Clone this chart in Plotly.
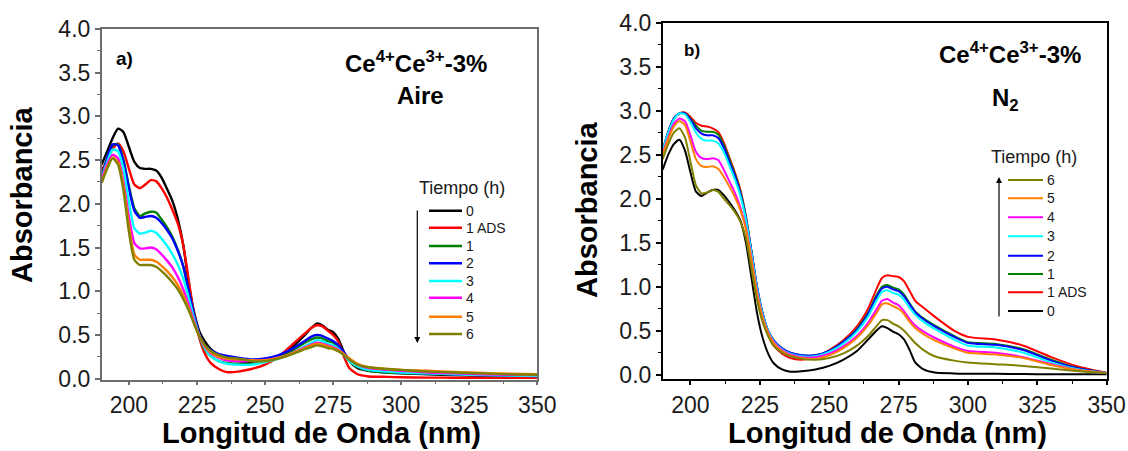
import plotly.graph_objects as go

W, H = 1128, 451

# ---------------- data ----------------
wavelength = [190, 192, 194, 196, 198, 200, 202, 204, 206, 208, 210, 212, 214, 216, 218, 220,
              222, 224, 226, 228, 230, 233, 236, 240, 245, 250, 255, 260, 264, 267, 269, 271,
              273, 275, 277, 279, 281, 284, 288, 295, 300, 310, 320, 330, 340, 350]

series_names = ["0", "1 ADS", "1", "2", "3", "4", "5", "6"]
series_colors = ["#000000", "#ff0000", "#008000", "#0000ff", "#00ffff", "#ff00ff", "#ff8000", "#808000"]

# Panel a) Aire
aire_0 = [2.45, 2.60, 2.75, 2.86, 2.82, 2.65, 2.48, 2.41, 2.40, 2.40, 2.38, 2.30, 2.17, 2.03, 1.82, 1.52,
          1.08, 0.75, 0.53, 0.42, 0.34, 0.27, 0.23, 0.20, 0.19, 0.21, 0.26, 0.36, 0.48, 0.58, 0.63, 0.61,
          0.56, 0.53, 0.45, 0.30, 0.20, 0.12, 0.09, 0.07, 0.06, 0.05, 0.04, 0.03, 0.025, 0.02]
aire_1ads = [2.38, 2.50, 2.63, 2.69, 2.60, 2.40, 2.22, 2.18, 2.22, 2.27, 2.26, 2.18, 2.07, 1.93, 1.77, 1.52,
             1.12, 0.72, 0.45, 0.28, 0.18, 0.11, 0.075, 0.08, 0.11, 0.16, 0.25, 0.39, 0.50, 0.58, 0.61, 0.60,
             0.55, 0.50, 0.42, 0.25, 0.12, 0.05, 0.025, 0.02, 0.015, 0.012, 0.01, 0.01, 0.01, 0.01]
aire_1 = [2.32, 2.52, 2.67, 2.68, 2.50, 2.20, 1.95, 1.86, 1.89, 1.91, 1.90, 1.82, 1.73, 1.62, 1.47, 1.28,
          1.00, 0.70, 0.47, 0.33, 0.26, 0.20, 0.18, 0.17, 0.17, 0.20, 0.25, 0.32, 0.40, 0.45, 0.47, 0.46,
          0.43, 0.41, 0.36, 0.28, 0.20, 0.13, 0.09, 0.07, 0.065, 0.055, 0.05, 0.045, 0.04, 0.04]
aire_2 = [2.30, 2.52, 2.68, 2.67, 2.48, 2.18, 1.92, 1.84, 1.85, 1.86, 1.84, 1.78, 1.70, 1.60, 1.46, 1.28,
          1.00, 0.72, 0.50, 0.38, 0.33, 0.28, 0.26, 0.24, 0.22, 0.23, 0.27, 0.34, 0.42, 0.48, 0.50, 0.49,
          0.46, 0.43, 0.38, 0.30, 0.21, 0.14, 0.10, 0.08, 0.07, 0.06, 0.05, 0.04, 0.035, 0.03]
aire_3 = [2.30, 2.48, 2.62, 2.60, 2.40, 2.02, 1.72, 1.66, 1.67, 1.69, 1.67, 1.60, 1.52, 1.42, 1.30, 1.14,
          0.92, 0.68, 0.48, 0.34, 0.26, 0.20, 0.17, 0.16, 0.16, 0.19, 0.23, 0.29, 0.36, 0.41, 0.44, 0.43,
          0.40, 0.38, 0.34, 0.27, 0.20, 0.14, 0.10, 0.08, 0.07, 0.06, 0.05, 0.04, 0.035, 0.03]
aire_4 = [2.28, 2.45, 2.56, 2.52, 2.25, 1.85, 1.55, 1.49, 1.49, 1.50, 1.48, 1.42, 1.35, 1.27, 1.16, 1.02,
          0.84, 0.65, 0.48, 0.36, 0.29, 0.24, 0.21, 0.20, 0.20, 0.21, 0.24, 0.29, 0.35, 0.39, 0.41, 0.40,
          0.38, 0.36, 0.33, 0.28, 0.22, 0.16, 0.12, 0.10, 0.09, 0.07, 0.06, 0.05, 0.045, 0.04]
aire_5 = [2.25, 2.42, 2.53, 2.48, 2.20, 1.75, 1.42, 1.36, 1.36, 1.36, 1.34, 1.29, 1.23, 1.16, 1.07, 0.95,
          0.80, 0.63, 0.48, 0.37, 0.30, 0.25, 0.23, 0.22, 0.21, 0.21, 0.24, 0.29, 0.34, 0.38, 0.40, 0.39,
          0.37, 0.35, 0.32, 0.28, 0.23, 0.17, 0.13, 0.11, 0.10, 0.09, 0.075, 0.065, 0.055, 0.05]
aire_6 = [2.24, 2.40, 2.52, 2.45, 2.15, 1.68, 1.36, 1.30, 1.30, 1.30, 1.28, 1.23, 1.17, 1.10, 1.02, 0.91,
          0.78, 0.62, 0.48, 0.38, 0.32, 0.27, 0.24, 0.23, 0.20, 0.20, 0.23, 0.28, 0.33, 0.36, 0.38, 0.37,
          0.35, 0.34, 0.31, 0.27, 0.22, 0.16, 0.13, 0.11, 0.10, 0.08, 0.07, 0.06, 0.05, 0.045]

# Panel b) N2
n2_0 = [2.33, 2.50, 2.62, 2.67, 2.55, 2.30, 2.08, 2.03, 2.07, 2.10, 2.10, 2.04, 1.96, 1.87, 1.75, 1.50,
        1.10, 0.70, 0.42, 0.24, 0.13, 0.06, 0.035, 0.04, 0.06, 0.10, 0.17, 0.27, 0.40, 0.50, 0.55, 0.53,
        0.49, 0.46, 0.40, 0.28, 0.14, 0.06, 0.025, 0.015, 0.01, 0.01, 0.008, 0.005, 0.005, 0.005]
n2_1ads = [2.55, 2.76, 2.91, 2.97, 2.98, 2.93, 2.86, 2.83, 2.82, 2.80, 2.76, 2.64, 2.47, 2.30, 2.10, 1.80,
           1.40, 0.98, 0.66, 0.45, 0.33, 0.24, 0.19, 0.17, 0.20, 0.28, 0.39, 0.55, 0.75, 0.97, 1.10, 1.13,
           1.12, 1.11, 1.06, 0.95, 0.84, 0.76, 0.66, 0.50, 0.43, 0.40, 0.33, 0.20, 0.09, 0.02]
n2_1 = [2.55, 2.76, 2.91, 2.97, 2.97, 2.91, 2.83, 2.77, 2.76, 2.76, 2.73, 2.61, 2.45, 2.28, 2.08, 1.79,
        1.40, 1.00, 0.70, 0.50, 0.39, 0.30, 0.25, 0.22, 0.22, 0.27, 0.37, 0.52, 0.70, 0.90, 1.00, 1.02,
        0.99, 0.97, 0.91, 0.81, 0.72, 0.64, 0.56, 0.44, 0.37, 0.35, 0.29, 0.17, 0.07, 0.02]
n2_2 = [2.55, 2.76, 2.91, 2.97, 2.97, 2.90, 2.80, 2.74, 2.72, 2.72, 2.69, 2.58, 2.42, 2.26, 2.06, 1.78,
        1.40, 1.00, 0.70, 0.50, 0.39, 0.30, 0.25, 0.22, 0.22, 0.27, 0.37, 0.51, 0.69, 0.88, 0.98, 1.00,
        0.97, 0.95, 0.89, 0.80, 0.71, 0.63, 0.55, 0.43, 0.36, 0.34, 0.28, 0.16, 0.07, 0.02]
n2_3 = [2.55, 2.75, 2.90, 2.97, 2.96, 2.87, 2.75, 2.68, 2.66, 2.66, 2.63, 2.53, 2.38, 2.22, 2.03, 1.76,
        1.38, 0.98, 0.69, 0.50, 0.38, 0.29, 0.24, 0.21, 0.21, 0.26, 0.35, 0.49, 0.66, 0.84, 0.94, 0.96,
        0.93, 0.91, 0.85, 0.76, 0.68, 0.60, 0.52, 0.40, 0.33, 0.31, 0.25, 0.14, 0.06, 0.02]
n2_4 = [2.52, 2.70, 2.85, 2.91, 2.88, 2.72, 2.53, 2.46, 2.45, 2.46, 2.44, 2.33, 2.20, 2.07, 1.90, 1.67,
        1.32, 0.94, 0.66, 0.48, 0.37, 0.28, 0.23, 0.20, 0.20, 0.24, 0.32, 0.44, 0.59, 0.74, 0.84, 0.86,
        0.82, 0.79, 0.72, 0.63, 0.56, 0.49, 0.42, 0.32, 0.27, 0.25, 0.20, 0.12, 0.05, 0.02]
n2_5 = [2.50, 2.68, 2.82, 2.88, 2.84, 2.65, 2.45, 2.37, 2.36, 2.37, 2.34, 2.25, 2.14, 2.02, 1.87, 1.65,
        1.30, 0.92, 0.65, 0.47, 0.36, 0.27, 0.22, 0.19, 0.18, 0.22, 0.30, 0.42, 0.56, 0.70, 0.80, 0.81,
        0.78, 0.75, 0.69, 0.60, 0.53, 0.46, 0.39, 0.30, 0.25, 0.23, 0.19, 0.11, 0.05, 0.02]
n2_6 = [2.45, 2.62, 2.75, 2.80, 2.70, 2.42, 2.15, 2.06, 2.07, 2.10, 2.08, 2.00, 1.93, 1.85, 1.74, 1.55,
        1.20, 0.85, 0.60, 0.44, 0.33, 0.25, 0.21, 0.18, 0.17, 0.19, 0.24, 0.33, 0.44, 0.55, 0.62, 0.62,
        0.58, 0.55, 0.50, 0.43, 0.36, 0.28, 0.21, 0.16, 0.14, 0.12, 0.10, 0.07, 0.04, 0.02]

aire_series = [aire_0, aire_1ads, aire_1, aire_2, aire_3, aire_4, aire_5, aire_6]
n2_series = [n2_0, n2_1ads, n2_1, n2_2, n2_3, n2_4, n2_5, n2_6]

x_ticks = [200, 225, 250, 275, 300, 325, 350]
y_ticks = [0.0, 0.5, 1.0, 1.5, 2.0, 2.5, 3.0, 3.5, 4.0]


def px(x):
    return x / W


def py(y):
    return 1 - y / H


FONT = "Arial, Liberation Sans, sans-serif"

fig = go.Figure()
for vals, name, col in zip(aire_series, series_names, series_colors):
    fig.add_trace(go.Scatter(x=wavelength, y=vals, mode="lines", name=name,
                             line=dict(color=col, width=2.4, shape="spline", smoothing=0.6),
                             xaxis="x", yaxis="y", showlegend=False))
for vals, name, col in zip(n2_series, series_names, series_colors):
    fig.add_trace(go.Scatter(x=wavelength, y=vals, mode="lines", name=name,
                             line=dict(color=col, width=2.0, shape="spline", smoothing=0.6),
                             xaxis="x2", yaxis="y2", showlegend=False))


def xaxis_cfg(domain, color, anchor):
    return dict(domain=domain, anchor=anchor, automargin=False, range=[190, 350],
                tickmode="array", tickvals=x_ticks,
                ticktext=[str(v) for v in x_ticks], ticks="outside", ticklen=4, tickwidth=1.5,
                tickcolor=color, showline=True, linecolor=color, linewidth=1.5, mirror=True,
                showgrid=False, zeroline=False,
                tickfont=dict(family=FONT, size=23, color="#1a1a1a"),
                minor=dict(ticks="outside", ticklen=3, tickwidth=1.2, tickcolor=color,
                           tickvals=[212.5, 237.5, 262.5, 287.5, 312.5, 337.5]))


def yaxis_cfg(domain, rng, color, anchor):
    return dict(domain=domain, anchor=anchor, automargin=False, range=rng,
                tickmode="array", tickvals=y_ticks,
                ticktext=[f"{v:.1f}" for v in y_ticks], ticks="outside", ticklen=5, tickwidth=1.5,
                tickcolor=color, showline=True, linecolor=color, linewidth=1.5, mirror=True,
                showgrid=False, zeroline=False,
                tickfont=dict(family=FONT, size=23, color="#1a1a1a"),
                minor=dict(ticks="outside", ticklen=3, tickwidth=1.2, tickcolor=color,
                           tickvals=[0.25, 0.75, 1.25, 1.75, 2.25, 2.75, 3.25, 3.75]))


annotations = []
shapes = []


def txt(x, y, text, size, bold=False, xanchor="center", angle=0, color="#000000"):
    annotations.append(dict(x=px(x), y=py(y), xref="paper", yref="paper", showarrow=False,
                            text=f"<b>{text}</b>" if bold else text, textangle=angle,
                            xanchor=xanchor, yanchor="middle",
                            font=dict(family=FONT, size=size, color=color)))


# panel texts
txt(125, 58, "a)", 19, bold=True)
txt(416, 62, "Ce<sup>4+</sup>Ce<sup>3+</sup>-3%", 24, bold=True)
txt(420, 95, "Aire", 24, bold=True)
txt(692, 51, "b)", 17, bold=True)
txt(1010, 53, "Ce<sup>4+</sup>Ce<sup>3+</sup>-3%", 24, bold=True)
txt(1005, 100, "N<sub>2</sub>", 24, bold=True)

# axis titles
txt(22, 195, "Absorbancia", 29, bold=True, angle=-90)
txt(587, 210, "Absorbancia", 29, bold=True, angle=-90)
txt(321, 433, "Longitud de Onda (nm)", 29, bold=True)
txt(887, 433, "Longitud de Onda (nm)", 29, bold=True)

# legends
txt(462, 188, "Tiempo (h)", 18, color="#1a1a1a")
left_rows = [210.7, 227.7, 246, 263.3, 281, 297.7, 316.7, 334]
for name, col, yy in zip(series_names, series_colors, left_rows):
    shapes.append(dict(type="line", xref="paper", yref="paper", x0=px(429), x1=px(462),
                       y0=py(yy), y1=py(yy), line=dict(color=col, width=2.4)))
    txt(463.5, yy, name, 14, xanchor="left", color="#1a1a1a")

txt(1034, 157, "Tiempo (h)", 18, color="#1a1a1a")
right_rows = [311, 292.3, 274, 255.7, 236.3, 217.3, 198.3, 180]
for name, col, yy in zip(series_names, series_colors, right_rows):
    shapes.append(dict(type="line", xref="paper", yref="paper", x0=px(1008), x1=px(1043),
                       y0=py(yy), y1=py(yy), line=dict(color=col, width=2)))
    txt(1045, yy, name, 14, xanchor="left", color="#1a1a1a")

# time arrows
annotations.append(dict(x=px(417.3), y=py(343), xref="paper", yref="paper", ax=0, ay=-134,
                        text="", showarrow=True, arrowhead=2, arrowsize=1, arrowwidth=1.2,
                        arrowcolor="#000000"))
annotations.append(dict(x=px(999), y=py(177), xref="paper", yref="paper", ax=0, ay=141,
                        text="", showarrow=True, arrowhead=2, arrowsize=1, arrowwidth=1.2,
                        arrowcolor="#000000"))

fig.update_layout(
    width=W, height=H, margin=dict(l=0, r=0, t=0, b=0, autoexpand=False),
    paper_bgcolor="white", plot_bgcolor="white", showlegend=False,
    xaxis=xaxis_cfg([px(101.7), px(537.3)], "#6d6d6d", "y"),
    yaxis=yaxis_cfg([py(379.5), py(29)], [-0.01, 4.0], "#6d6d6d", "x"),
    xaxis2=xaxis_cfg([px(662.7), px(1106.7)], "#000000", "y2"),
    yaxis2=yaxis_cfg([py(379.3), py(22.7)], [-0.052, 4.0], "#000000", "x2"),
    annotations=annotations, shapes=shapes,
)

fig.write_html("out.html", config={"displayModeBar": False},
               post_script="document.body.style.margin='0';document.body.style.overflow='hidden';")
